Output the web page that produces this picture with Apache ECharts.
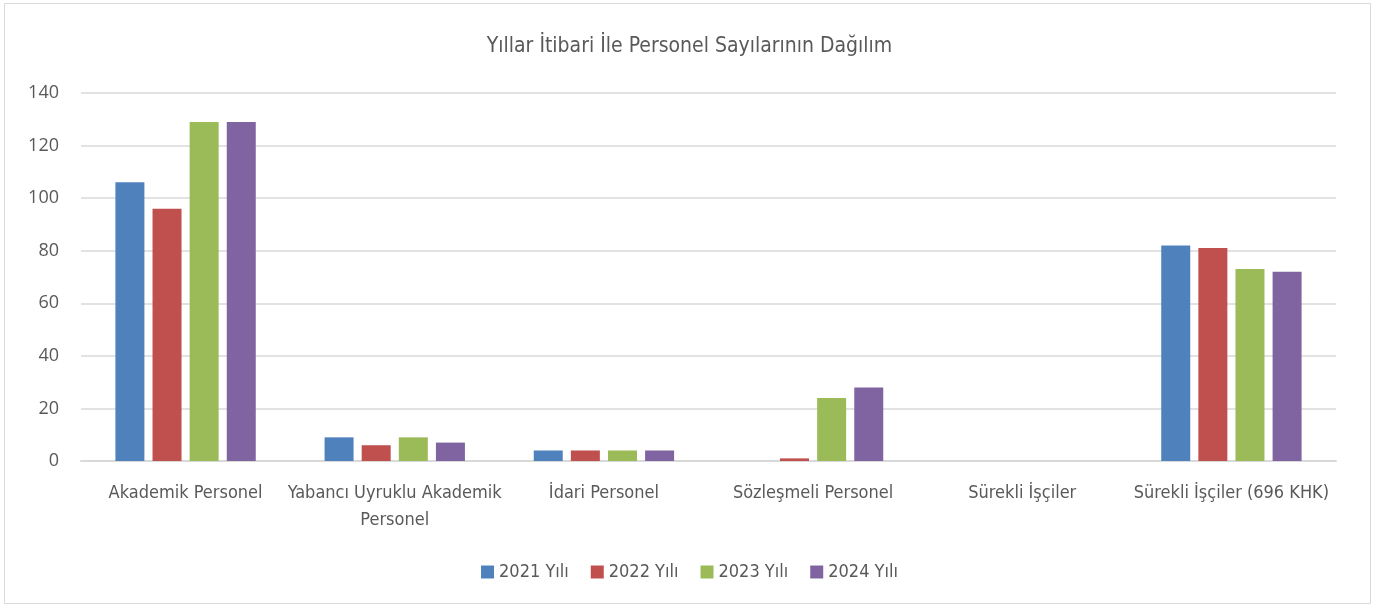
<!DOCTYPE html>
<html>
<head>
<meta charset="utf-8">
<script src="https://cdn.jsdelivr.net/npm/echarts@6/dist/echarts.min.js"></script>
<style>
  html, body { margin: 0; padding: 0; background: #fff; }
  #chart { width: 1379px; height: 607px; }
</style>
</head>
<body>
<div id="chart"></div>
<script>
  // kategoriler ve seriler
  const categories = ["Akademik Personel", "Yabancı Uyruklu Akademik\nPersonel", "İdari Personel", "Sözleşmeli Personel", "Sürekli İşçiler", "Sürekli İşçiler (696 KHK)"];
  const years = ["2021 Yılı", "2022 Yılı", "2023 Yılı", "2024 Yılı"];
  const colors = ["#4f81bd", "#c0504d", "#9bbb59", "#8064a2"];
  const v2021 = [106, 9, 4, 0, 0, 82];
  const v2022 = [96, 6, 4, 1, 0, 81];
  const v2023 = [129, 9, 4, 24, 0, 73];
  const v2024 = [129, 7, 4, 28, 0, 72];
  const values = [v2021, v2022, v2023, v2024];
  const yTicks = [0, 20, 40, 60, 80, 100, 120, 140];

  const narrow = "'Liberation Sans Narrow', 'DejaVu Sans Condensed', sans-serif";

  let chart = echarts.init(document.getElementById("chart"));
  let option = {
    animation: false,
    title: {
      text: "Yıllar İtibari İle Personel Sayılarının Dağılım",
      left: "center",
      top: 31,
      textStyle: { color: "#595959", fontSize: 21, fontWeight: "normal", fontFamily: narrow }
    },
    graphic: [{
      type: "rect",
      shape: { x: 4.5, y: 3.5, width: 1366, height: 600 },
      style: { fill: "none", stroke: "#d9d9d9", lineWidth: 1 }
    }],
    legend: {
      data: years,
      bottom: 21,
      left: "center",
      itemWidth: 13,
      itemHeight: 13,
      itemGap: 22,
      icon: "rect",
      textStyle: { color: "#595959", fontSize: 18, fontFamily: narrow }
    },
    grid: { left: 81, right: 43, top: 93, bottom: 146 },
    xAxis: {
      type: "category",
      data: categories,
      axisLine: { lineStyle: { color: "#d9d9d9", width: 2 } },
      axisTick: { show: false },
      axisLabel: { color: "#595959", fontSize: 18, fontFamily: narrow, margin: 19, lineHeight: 27, interval: 0 }
    },
    yAxis: {
      type: "value",
      min: yTicks[0],
      max: yTicks[yTicks.length - 1],
      interval: 20,
      axisLine: { show: false },
      axisTick: { show: false },
      axisLabel: { color: "#595959", fontSize: 18, fontFamily: "'Open Sans', sans-serif", margin: 22 },
      splitLine: { lineStyle: { color: "#d9d9d9", width: 1.5 } }
    },
    series: years.map(function (name, i) {
      return {
        name: name,
        type: "bar",
        data: values[i],
        barWidth: 29,
        barGap: "28%",
        itemStyle: { color: colors[i] }
      };
    })
  };
  chart.setOption(option);
</script>
</body>
</html>
